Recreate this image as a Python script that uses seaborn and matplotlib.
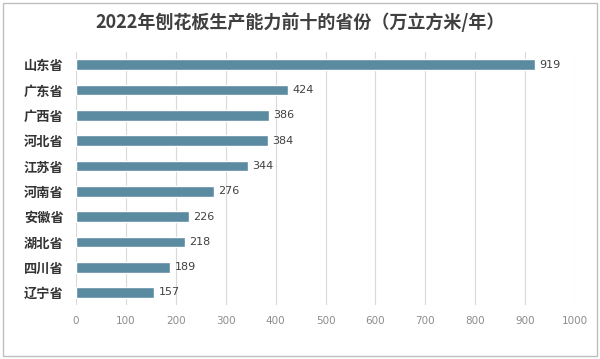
import seaborn as sns
import matplotlib.pyplot as plt
import pandas as pd
from matplotlib.patches import Rectangle

provinces = ["山东省", "广东省", "广西省", "河北省", "江苏省", "河南省", "安徽省", "湖北省", "四川省", "辽宁省"]
capacity = [919, 424, 386, 384, 344, 276, 226, 218, 189, 157]
xticks = [0, 100, 200, 300, 400, 500, 600, 700, 800, 900, 1000]

df = pd.DataFrame({"省份": provinces, "产能": capacity})

sns.set_theme(style="white")
plt.rcParams['font.family'] = ['Noto Sans CJK SC', 'DejaVu Sans']

fig = plt.figure(figsize=(6, 3.59), dpi=100)
ax = fig.add_axes([0.1267, 0.150, 0.8316, 0.705])

sns.barplot(data=df, x="产能", y="省份", color="#5b8ba1", saturation=1,
            width=0.42, ax=ax, zorder=3)

for i, v in enumerate(capacity):
    ax.text(v + 9, i, str(v), va="center", ha="left", fontsize=8, color="#404040",
            family="DejaVu Sans")

ax.set_xlim(0, 1000)
ax.set_xticks(xticks)
ax.set_xticklabels([str(t) for t in xticks], fontsize=7.5, color="#8c8c8c", family="DejaVu Sans")
ax.tick_params(axis="x", length=0, pad=8)
ax.tick_params(axis="y", length=0, pad=9, labelsize=9.5, labelcolor="#333333")
for lab in ax.get_yticklabels():
    lab.set_fontweight("bold")
ax.grid(axis="x", color="#d9d9d9", linewidth=0.8, zorder=0)
ax.set_xlabel("")
ax.set_ylabel("")
sns.despine(ax=ax, left=True, bottom=True)

fig.text(0.5, 0.938, "2022年刨花板生产能力前十的省份（万立方米/年）", ha="center", va="center",
         fontsize=13, fontweight="bold", color="#404040")

fig.patches.append(Rectangle((0.005, 0.008), 0.99, 0.985, transform=fig.transFigure,
                             fill=False, edgecolor="#bfbfbf", linewidth=1))

fig.savefig("out.png", dpi=100)
